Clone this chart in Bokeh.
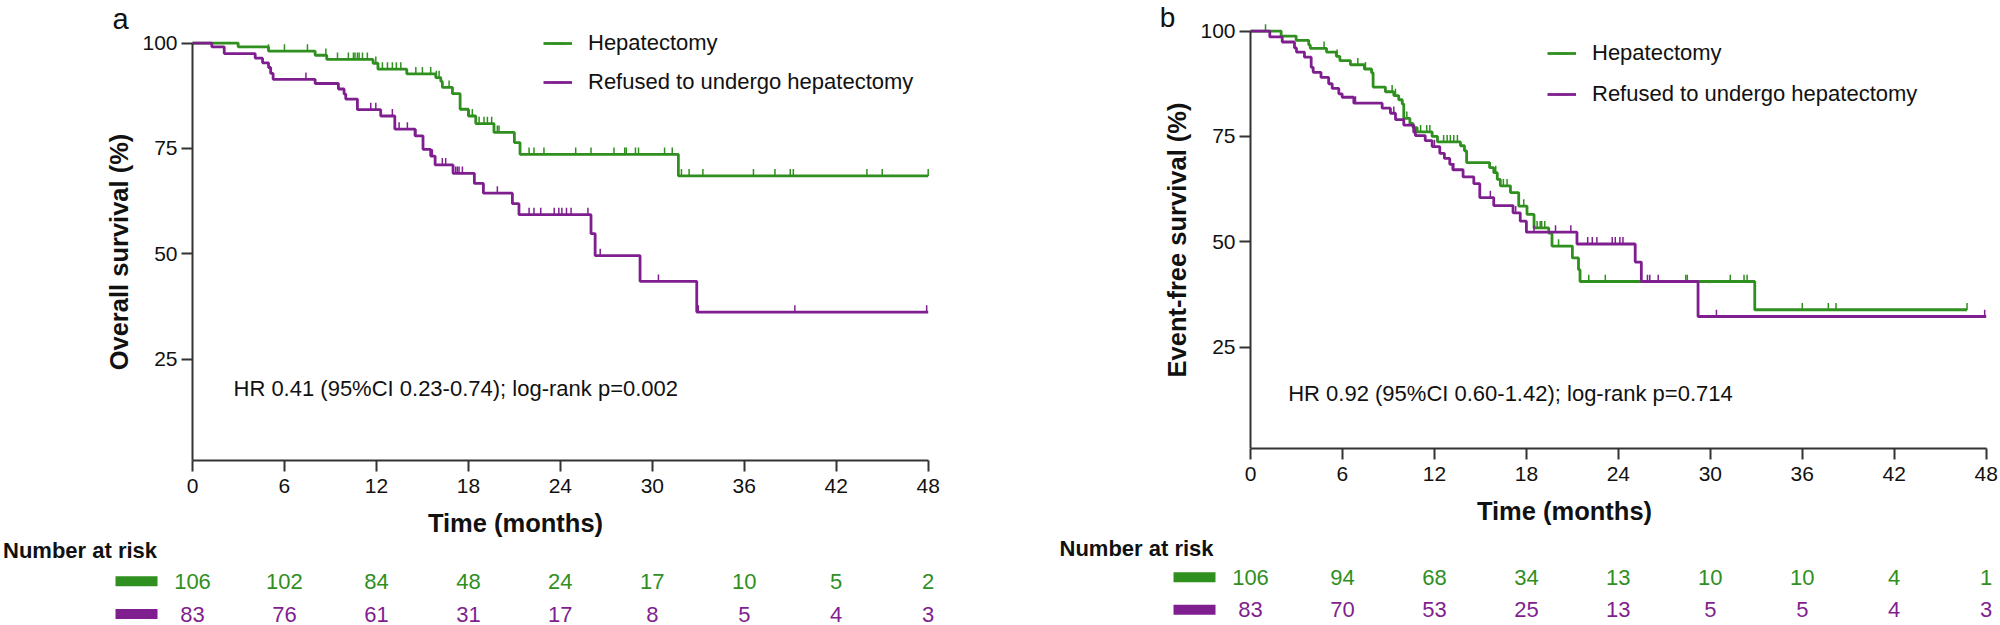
import numpy as np
from bokeh.plotting import figure
from bokeh.models import Range1d, FixedTicker, Legend, LegendItem, Label
from bokeh.layouts import row, column
from bokeh.embed import file_html
from bokeh.resources import INLINE
from bokeh.core.properties import value

# ---------------- data ----------------
X_TICKS = [0, 6, 12, 18, 24, 30, 36, 42, 48]
Y_TICKS = [25, 50, 75, 100]
GROUPS = ["Hepatectomy", "Refused to undergo hepatectomy"]

# Panel a: overall survival, hepatectomy
OS_HEP_T = [2.98, 4.96, 8.0, 8.76, 11.78, 12.1, 13.98, 15.87, 16.2, 16.3, 16.96, 17.46,
            18.0, 18.48, 19.67, 21.0, 21.37, 31.7]
OS_HEP_S = [99.1, 98.1, 97.1, 96.1, 95.2, 93.8, 92.7, 91.8, 90.9, 89.5, 88.0, 84.3,
            82.7, 80.9, 78.8, 76.4, 73.6, 68.5]
OS_HEP_END = 48.0
OS_HEP_CENS = [4.96, 6.0, 7.5, 8.7, 9.46, 10.17, 10.5, 10.6, 10.76, 10.87, 11.09, 11.41,
               11.96, 12.39, 12.72, 13.04, 13.3, 13.59, 14.57, 15.0, 15.54, 15.91, 16.09,
               16.74, 18.04, 18.26, 18.7, 19.02, 19.24, 19.52, 19.89, 20.0, 21.96, 22.28,
               22.93, 25.0, 26.0, 27.5, 28.2, 28.3, 28.9, 29.1, 30.8, 31.3, 31.9, 32.4,
               33.3, 36.6, 38.0, 39.0, 39.2, 44.0, 45.0, 48.0]

# Panel a: overall survival, refused
OS_REF_T = [1.26, 2.07, 4.09, 4.57, 4.96, 5.1, 5.26, 8.0, 9.52, 9.89, 10.0, 10.76,
            12.28, 13.2, 14.52, 15.04, 15.54, 15.83, 17.0, 18.39, 18.98, 20.87, 21.3,
            26.0, 26.27, 29.2, 32.9]
OS_REF_S = [99.1, 97.5, 96.4, 95.3, 94.2, 92.8, 91.4, 90.4, 89.1, 87.9, 86.7, 84.2,
            82.7, 79.6, 78.0, 74.8, 73.2, 71.1, 69.1, 66.7, 64.4, 61.9, 59.3,
            54.8, 49.6, 43.5, 36.2]
OS_REF_END = 48.0
OS_REF_CENS = [7.4, 11.63, 11.96, 13.04, 13.48, 14.02, 14.57, 15.65, 16.3, 16.52, 17.17,
               17.28, 17.39, 17.61, 19.89, 21.96, 22.28, 22.72, 23.6, 23.9, 24.1, 24.4,
               24.7, 25.8, 26.6, 30.4, 33.0, 39.3, 47.9]

# Panel b: event-free survival, hepatectomy
EFS_HEP_T = [2.0, 2.98, 3.8, 3.9, 4.96, 5.6, 5.83, 6.52, 7.43, 7.9, 8.0, 8.8, 9.35, 9.67,
             9.9, 10.0, 10.4, 10.6, 10.87, 11.85, 12.2, 13.7, 13.96, 14.1, 15.6, 15.87,
             16.1, 16.3, 16.96, 17.5, 18.04, 18.5, 19.46, 19.67, 21.0, 21.4, 21.5, 32.9]
EFS_HEP_S = [98.8, 97.8, 96.7, 95.9, 95.0, 94.0, 93.0, 92.0, 91.0, 90.1, 86.7, 85.6, 84.7,
             83.7, 82.7, 79.3, 78.1, 77.1, 76.1, 75.0, 73.7, 72.8, 71.6, 68.8, 67.6, 66.4,
             64.8, 63.3, 61.7, 58.5, 56.5, 53.3, 52.1, 49.0, 46.2, 43.4, 40.6, 33.9]
EFS_HEP_END = 46.75
EFS_HEP_CENS = [0.98, 4.8, 5.65, 7.0, 7.5, 9.24, 9.46, 10.2, 11.1, 11.5, 11.7, 12.6, 12.83,
                13.04, 13.26, 13.5, 16.0, 16.5, 16.74, 17.83, 18.7, 18.9, 19.0, 19.2, 20.1,
                22.07, 23.15, 28.4, 28.5, 31.3, 32.2, 32.4, 36.0, 37.7, 38.2, 46.75]

# Panel b: event-free survival, refused
EFS_REF_T = [1.26, 2.07, 2.87, 3.0, 3.52, 3.96, 4.09, 4.6, 5.1, 5.33, 5.76, 5.98, 6.74,
             8.59, 9.13, 9.46, 10.0, 10.65, 10.76, 11.4, 11.85, 12.35, 12.65, 13.0, 13.2,
             13.87, 14.57, 14.96, 15.87, 17.13, 17.6, 18.0, 21.3, 25.1, 25.5, 29.2]
EFS_REF_S = [98.6, 97.4, 96.0, 95.0, 93.8, 91.4, 90.2, 89.0, 87.5, 86.4, 85.1, 84.3, 82.9,
             81.7, 80.5, 79.0, 77.7, 76.0, 75.2, 74.0, 72.6, 71.0, 69.8, 68.4, 67.1,
             65.4, 63.8, 60.5, 58.6, 56.9, 54.9, 52.3, 49.5, 45.2, 40.6, 32.3]
EFS_REF_END = 48.0
EFS_REF_CENS = [6.85, 9.35, 10.0, 10.76, 12.0, 13.26, 14.57, 15.65, 17.3, 18.0, 18.5, 19.9,
                20.9, 22.0, 22.3, 22.6, 23.6, 23.8, 24.1, 24.3, 25.9, 26.05, 26.6, 30.4, 47.9]

# Numbers at risk (at X_TICKS)
RISK_A_HEP = [106, 102, 84, 48, 24, 17, 10, 5, 2]
RISK_A_REF = [83, 76, 61, 31, 17, 8, 5, 4, 3]
RISK_B_HEP = [106, 94, 68, 34, 13, 10, 10, 4, 1]
RISK_B_REF = [83, 70, 53, 25, 13, 5, 5, 4, 3]

HR_A = "HR 0.41 (95%CI 0.23-0.74); log-rank p=0.002"
HR_B = "HR 0.92 (95%CI 0.60-1.42); log-rank p=0.714"
YLABEL_A = "Overall survival (%)"
YLABEL_B = "Event-free survival (%)"
XLABEL = "Time (months)"
RISK_TITLE = "Number at risk"

# ---------------- style ----------------
FONT = "Liberation Sans"
INK = "#111111"
AXIS_INK = "#333333"
COLORS = ["#2f8f1f", "#7f1f8f"]
X_END = 48.15
Y_MIN = 1.0
Y_PX = 4.2169          # px per survival unit
CENSOR_LIFT = 0.8
BAR_OFFSET = -56.0     # px from time 0 to centre of the colour bar


def step_xy(times, surv, end):
    x = np.concatenate([[0.0], np.asarray(times, float), [end]])
    y = np.concatenate([[100.0], np.asarray(surv, float), [surv[-1]]])
    return x, y


def censor_y(x, y, cens):
    idx = np.searchsorted(x, cens, side="right") - 1
    return y[idx]


def km_panel(W, H, frame_left, axis0, frame_right, frame_bottom, ylabel, curves,
             hr_text, hr_pos, leg_loc, leg_spacing, letter, letter_pos, letter_size):
    fw = frame_right - frame_left
    d = axis0 - frame_left
    xs = -d * X_END / (fw - d)
    p = figure(width=W, height=H, title=None,
               x_range=Range1d(xs, X_END),
               y_range=Range1d(Y_MIN, Y_MIN + frame_bottom / Y_PX),
               min_border_left=frame_left, min_border_right=W - frame_right,
               min_border_top=0, min_border_bottom=H - frame_bottom,
               output_backend="svg", toolbar_location=None)
    p.outline_line_color = None
    p.background_fill_color = "white"
    p.border_fill_color = "white"
    p.xgrid.visible = False
    p.ygrid.visible = False
    p.xaxis.ticker = FixedTicker(ticks=X_TICKS)
    p.yaxis.ticker = FixedTicker(ticks=Y_TICKS)
    for ax in (p.xaxis[0], p.yaxis[0]):
        ax.axis_line_width = 2
        ax.axis_line_color = AXIS_INK
        ax.major_tick_line_width = 2
        ax.major_tick_line_color = AXIS_INK
        ax.major_tick_out = 11
        ax.major_tick_in = 0
        ax.minor_tick_line_color = None
        ax.major_label_text_font = FONT
        ax.major_label_text_font_size = "21px"
        ax.major_label_text_color = INK
        ax.axis_label_text_font = FONT
        ax.axis_label_text_font_size = "25.5px"
        ax.axis_label_text_font_style = "bold"
        ax.axis_label_text_color = INK
    p.xaxis.bounds = (0, 48)
    p.yaxis.bounds = (Y_MIN, 100)
    p.yaxis.fixed_location = 0
    p.xaxis.axis_label = XLABEL
    p.yaxis.axis_label = ylabel
    p.xaxis.major_label_standoff = 7
    p.xaxis.axis_label_standoff = 13
    p.yaxis.major_label_standoff = 4
    p.yaxis.axis_label_standoff = 6

    items = []
    for (times, surv, end, cens), color, name in zip(curves, COLORS, GROUPS):
        x, y = step_xy(times, surv, end)
        r1 = p.step(x=x, y=y, mode="after", line_color=color, line_width=2.8)
        cx = np.asarray(cens, float)
        cy = censor_y(x, y, cx) + CENSOR_LIFT
        r2 = p.scatter(x=cx, y=cy, marker="dash", angle=np.pi / 2, size=7,
                       line_color=color, line_width=1.5)
        items.append(LegendItem(label=name, renderers=[r1, r2]))

    leg = Legend(items=items, location=leg_loc, orientation="vertical",
                 padding=0, margin=0, spacing=leg_spacing,
                 glyph_width=29, glyph_height=30, label_height=30, label_width=20,
                 label_standoff=16, label_text_font=FONT, label_text_font_size="22px",
                 label_text_color=INK, border_line_color=None, background_fill_alpha=0)
    p.add_layout(leg)

    p.add_layout(Label(x=hr_pos[0], y=hr_pos[1], text=hr_text, text_font=FONT,
                       text_font_size="22px", text_color=INK, text_baseline="alphabetic"))
    p.add_layout(Label(x=letter_pos[0], y=letter_pos[1], x_units="screen", y_units="screen",
                       text=letter, text_font=FONT, text_font_size=letter_size,
                       text_color=INK, text_align="center", text_baseline="alphabetic"))
    pxpm = fw / (X_END - xs)
    return p, pxpm


def risk_table(W, H, axis0, pxpm, rows, header_px, header_y, row_ys):
    t = figure(width=W, height=H, title=None,
               x_range=Range1d(-axis0 / pxpm, (W - axis0) / pxpm), y_range=Range1d(H, 0),
               min_border=0, x_axis_type=None, y_axis_type=None,
               output_backend="svg", toolbar_location=None)
    t.outline_line_color = None
    t.background_fill_color = "white"
    t.border_fill_color = "white"
    t.text(x=[header_px / pxpm], y=[header_y], text=[RISK_TITLE], text_font=value(FONT),
           text_font_size="22px", text_font_style="bold", text_align="left",
           text_baseline="middle", text_color=INK)
    for counts, color, ry in zip(rows, COLORS, row_ys):
        t.rect(x=[BAR_OFFSET / pxpm], y=[ry], width=42, height=10,
               width_units="screen", height_units="screen",
               fill_color=color, line_color=None)
        t.text(x=X_TICKS, y=[ry] * len(X_TICKS), text=[str(n) for n in counts],
               text_font=value(FONT), text_font_size="22px", text_align="center",
               text_baseline="middle", text_color=color)
    return t


# ---------------- panel a ----------------
WA = 1000
km_a, pxpm_a = km_panel(WA, 539, 100, 192, 930, 460, YLABEL_A,
                        [(OS_HEP_T, OS_HEP_S, OS_HEP_END, OS_HEP_CENS),
                         (OS_REF_T, OS_REF_S, OS_REF_END, OS_REF_CENS)],
                        HR_A, (2.675, 18.1), (443, 363), 9, "a", (20, 441.7), "29px")
tbl_a = risk_table(WA, 86, 192, pxpm_a, [RISK_A_HEP, RISK_A_REF], -189.5, 11, [41.7, 74.5])

# ---------------- panel b ----------------
WB = 1000
km_b, pxpm_b = km_panel(WB, 527, 140, 250, 988, 448, YLABEL_B,
                        [(EFS_HEP_T, EFS_HEP_S, EFS_HEP_END, EFS_HEP_CENS),
                         (EFS_REF_T, EFS_REF_S, EFS_REF_END, EFS_REF_CENS)],
                        HR_B, (2.46, 14.1), (407, 339), 11, "b", (27, 431.0), "28px")
tbl_b = risk_table(WB, 98, 250, pxpm_b, [RISK_B_HEP, RISK_B_REF], -191, 20.7, [49.7, 82.3])

layout = row(column(km_a, row(tbl_a)), column(km_b, row(tbl_b)))
open("out.html", "w").write(file_html(layout, INLINE))
